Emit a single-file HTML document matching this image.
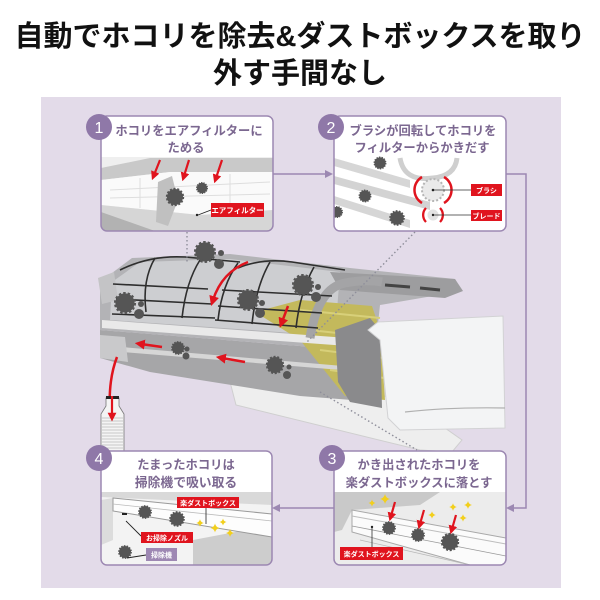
<!DOCTYPE html>
<html><head><meta charset="utf-8"><style>
html,body{margin:0;padding:0;background:#fff;}
svg{display:block;}
.t{font-family:"Liberation Sans","Noto Sans CJK JP",sans-serif;}
</style></head><body>
<svg width="600" height="600" viewBox="0 0 600 600" xmlns="http://www.w3.org/2000/svg" class="t">
<defs>
<marker id="ar" markerWidth="4" markerHeight="4" refX="1.5" refY="2" orient="auto"><path d="M0,0 L4,2 L0,4z" fill="#e0141e"/></marker>
<g id="dust"><circle r="8" fill="#555" stroke="#555" stroke-width="2.4" stroke-dasharray="2 1.6"/></g>
<path id="sp" d="M0,-5 Q0.9,-0.9 5,0 Q0.9,0.9 0,5 Q-0.9,0.9 -5,0 Q-0.9,-0.9 0,-5Z" fill="#f2cf1c"/>
<clipPath id="c1"><rect x="101" y="116" width="172" height="115" rx="6"/></clipPath>
<clipPath id="c2"><rect x="334" y="116" width="172" height="115" rx="6"/></clipPath>
<clipPath id="c3"><rect x="334" y="451" width="172" height="114" rx="6"/></clipPath>
<clipPath id="c4"><rect x="101" y="451" width="171" height="114" rx="6"/></clipPath>
</defs>

<!-- heading -->
<text x="300" y="46" font-size="29" font-weight="bold" text-anchor="middle" fill="#111">自動でホコリを除去&amp;ダストボックスを取り</text>
<text x="300" y="83" font-size="29" font-weight="bold" text-anchor="middle" fill="#111">外す手間なし</text>

<!-- panel -->
<rect x="41" y="97" width="520" height="491" fill="#e3dbe9"/>

<!-- connectors -->
<g stroke="#9c88b2" stroke-width="1.5" fill="none">
<path d="M273,174 H326"/>
<path d="M506,174 H526 V508 H513"/>
<path d="M334,508 H279"/>
</g>
<path d="M333,174 L325,170 L325,178Z" fill="#9c88b2"/>
<path d="M506,508 L514,504 L514,512Z" fill="#9c88b2"/>
<path d="M272,508 L280,504 L280,512Z" fill="#9c88b2"/>

<!-- ===== main AC illustration ===== -->
<polygon points="228,374 330,386 405,400 462,440 452,452 420,450 236,405" fill="#eeeeee" stroke="#cfcfcf"/>
<polygon points="100,330 375,352 378,402 300,396 150,372 100,358" fill="#a6a6a8"/>
<polygon points="100,282 132,258 230,254 350,268 455,279 462,291 380,305 375,352 100,330" fill="#b3b3b6"/>
<polygon points="112,282 140,262 230,259 340,272 335,336 110,320" fill="#cdced1"/>
<polygon points="255,312 300,300 372,306 380,330 385,400 345,396 300,340" fill="#c3b95c"/>
<g stroke="#d8d07a" stroke-width="2"><path d="M300,310 L380,318"/><path d="M310,330 L382,338"/><path d="M320,350 L383,358"/><path d="M330,370 L384,378"/></g>
<polygon points="102,320 375,340 375,348 102,328" fill="#e9e9e9"/>
<polygon points="110,346 378,369 378,373 110,351" fill="#d6d6d6"/>
<polygon points="98,278 114,272 118,300 102,304" fill="#c4c4c6"/>
<polygon points="100,335 125,337 128,362 100,358" fill="#c9c9cb"/>
<polygon points="335,330 370,318 380,330 382,408 350,402 338,382" fill="#8a8a8c"/>
<polygon points="330,272 455,279 463,291 445,298 340,290" fill="#9d9d9f"/>
<g stroke="#444" stroke-width="3"><path d="M385,285 L410,287"/><path d="M420,288 L440,290"/></g>
<path d="M310,338 Q318,288 345,283 Q365,279 382,282" stroke="#a4a4a6" stroke-width="9" fill="none"/>
<!-- white cover -->
<polygon points="368,330 378,322 503,316 505,428 400,430 388,418 380,340" fill="#f3f4f5" stroke="#d2d2d4"/>
<path d="M405,412 Q450,407 505,408" stroke="#b0b0b0" stroke-width="1.2" fill="none"/>
<!-- filter frames -->
<g stroke="#2e2e2e" stroke-width="1.6" fill="none">
<path d="M120,270 Q150,255 185,257 L240,262"/>
<path d="M113,284 L208,289"/><path d="M116,299 L212,304"/><path d="M112,314 L215,318"/>
<path d="M155,258 Q142,280 146,312"/><path d="M200,260 Q186,282 182,318"/><path d="M238,263 Q222,285 218,320"/>
<path d="M238,268 Q262,258 292,262 L345,270"/>
<path d="M222,290 L332,296"/><path d="M218,306 L322,313"/><path d="M215,320 L318,328"/>
<path d="M270,262 Q256,286 252,324"/><path d="M314,267 Q300,292 296,328"/>
</g>
<!-- dotted lines -->
<g stroke="#8e8e9a" stroke-width="1.4" stroke-dasharray="1.5 2.5" fill="none">
<path d="M187,232 V262"/>
<path d="M415,232 L307,342"/>
<path d="M320,392 L417,450"/>
</g>
<!-- dust on AC -->
<g>
<use href="#dust" transform="translate(205,252) scale(1.2)"/><circle cx="221" cy="253" r="3" fill="#555"/><circle cx="219" cy="264" r="5" fill="#555"/>
<use href="#dust" transform="translate(125,303) scale(1.2)"/><circle cx="141" cy="304" r="3" fill="#555"/><circle cx="139" cy="314" r="5" fill="#555"/>
<use href="#dust" transform="translate(248,300) scale(1.2)"/><circle cx="262" cy="303" r="3" fill="#555"/><circle cx="260" cy="313" r="5" fill="#555"/>
<use href="#dust" transform="translate(303,285) scale(1.2)"/><circle cx="318" cy="287" r="3" fill="#555"/><circle cx="316" cy="297" r="5" fill="#555"/>
<use href="#dust" transform="translate(178,348) scale(0.75)"/><circle cx="187" cy="349" r="2.5" fill="#555"/><circle cx="186" cy="356" r="3.5" fill="#555"/>
<use href="#dust" transform="translate(275,365) scale(1)"/><circle cx="289" cy="367" r="2.5" fill="#555"/><circle cx="287" cy="375" r="4" fill="#555"/>
</g>
<!-- red arrows on AC -->
<g stroke="#e0141e" stroke-width="2.5" fill="none" marker-end="url(#ar)">
<path d="M248,262 Q222,272 213,300"/>
<path d="M288,306 L282,322"/>
<path d="M162,347 L141,344"/>
<path d="M245,362 L222,358"/>
<path d="M117,357 Q108,380 110,414"/>
</g>
<!-- nozzle -->
<path d="M106,398 L119,398 L119,406 L124,414 L124,452 L101,452 L101,414 L106,406Z" fill="#f4f4f4" stroke="#777" stroke-width="0.8"/>
<g stroke="#9a9a9a" stroke-width="0.6"><path d="M102,418 H123"/><path d="M102,421 H123"/><path d="M102,424 H123"/><path d="M102,427 H123"/><path d="M102,430 H123"/><path d="M102,433 H123"/><path d="M102,436 H123"/><path d="M102,439 H123"/><path d="M102,442 H123"/><path d="M102,445 H123"/><path d="M102,448 H123"/></g>
<rect x="106" y="396" width="13" height="3" fill="#222"/>
<path d="M112,396 V416" stroke="#e0141e" stroke-width="2.2" marker-end="url(#ar)"/>

<!-- ===== Box 1 ===== -->
<rect x="101" y="116" width="172" height="115" rx="6" fill="#fff"/>
<g clip-path="url(#c1)">
<rect x="101" y="157" width="172" height="74" fill="#efefef"/>
<polygon points="101,168 150,158 273,158 273,172 170,172 101,180" fill="#c9c9c9"/>
<polygon points="101,180 170,172 273,172 273,210 200,215 101,205" fill="#fafafa"/>
<g stroke="#dedede" stroke-width="1"><path d="M110,190 L270,182"/><path d="M110,198 L270,194"/><path d="M140,178 L140,208"/><path d="M230,174 L230,212"/></g>
<polygon points="101,205 200,215 273,210 273,231 101,231" fill="#d6d6d6"/>
<polygon points="101,212 155,231 101,231" fill="#b2b2b2"/>
<polygon points="158,182 172,176 178,200 168,226 156,222" fill="#c0c0c0"/>
<use href="#dust" transform="translate(175,197) scale(1)"/>
<use href="#dust" transform="translate(202,188) scale(0.65)"/>
<g stroke="#e0141e" stroke-width="2.2" fill="none" marker-end="url(#ar)">
<path d="M160,160 L154,175"/><path d="M189,160 L184,176"/><path d="M222,160 L216,178"/>
</g>
<path d="M211,210 L198,215" stroke="#222" stroke-width="0.8"/><circle cx="197" cy="215" r="1.2" fill="#222"/>
<rect x="211" y="203" width="53" height="14" fill="#e0141e"/>
<text x="237.5" y="213" font-size="7.5" font-weight="bold" fill="#fff" text-anchor="middle">エアフィルター</text>
</g>
<rect x="101" y="116" width="172" height="115" rx="6" fill="none" stroke="#9c88b2" stroke-width="1.5"/>
<text x="189" y="135" font-size="12.3" font-weight="bold" fill="#7b6790" text-anchor="middle">ホコリをエアフィルターに</text>
<text x="186" y="152" font-size="12.3" font-weight="bold" fill="#7b6790" text-anchor="middle">ためる</text>
<circle cx="99" cy="127" r="13" fill="#8f78a8"/>
<text x="99" y="133" font-size="16" fill="#fff" text-anchor="middle">1</text>

<!-- ===== Box 2 ===== -->
<rect x="334" y="116" width="172" height="115" rx="6" fill="#fff"/>
<g clip-path="url(#c2)">
<polygon points="334,158 410,180 410,188 334,166" fill="#d6d6d6"/>
<polygon points="334,176 430,202 430,210 334,184" fill="#d3d3d3"/>
<polygon points="334,196 410,220 410,228 334,204" fill="#d6d6d6"/>
<path d="M400,158 Q404,182 433,178 Q455,176 457,158" stroke="#cfcfcf" stroke-width="5" fill="none"/>
<circle cx="433" cy="190" r="11" fill="#eaeaea" stroke="#b5b5b5" stroke-width="2" stroke-dasharray="2 2"/>
<circle cx="433" cy="190" r="1.3" fill="#222"/>
<path d="M422,177 A15,15 0 0 0 422,203" stroke="#e0141e" stroke-width="2.5" fill="none"/>
<path d="M444,177 A15,15 0 0 1 444,203" stroke="#e0141e" stroke-width="2.5" fill="none"/>
<circle cx="433" cy="215" r="5.5" fill="#e3e3e3"/>
<circle cx="433" cy="215" r="1.2" fill="#222"/>
<path d="M426,208 A10,10 0 0 0 426,222" stroke="#e0141e" stroke-width="2.3" fill="none"/>
<path d="M440,208 A10,10 0 0 1 440,222" stroke="#e0141e" stroke-width="2.3" fill="none"/>
<path d="M434,190 H471 M434,215 H471" stroke="#333" stroke-width="0.8"/>
<rect x="471" y="184" width="31" height="12" fill="#e0141e"/>
<text x="486.5" y="193" font-size="7" font-weight="bold" fill="#fff" text-anchor="middle">ブラシ</text>
<rect x="471" y="210" width="31" height="11" fill="#e0141e"/>
<text x="486.5" y="218.5" font-size="7" font-weight="bold" fill="#fff" text-anchor="middle">ブレード</text>
<use href="#dust" transform="translate(380,163) scale(0.7)"/>
<use href="#dust" transform="translate(365,196) scale(0.7)"/>
<use href="#dust" transform="translate(397,218) scale(0.85)"/>
<use href="#dust" transform="translate(337,212) scale(0.65)"/>
</g>
<rect x="334" y="116" width="172" height="115" rx="6" fill="none" stroke="#9c88b2" stroke-width="1.5"/>
<text x="423" y="135" font-size="12.3" font-weight="bold" fill="#7b6790" text-anchor="middle">ブラシが回転してホコリを</text>
<text x="422" y="152" font-size="12.3" font-weight="bold" fill="#7b6790" text-anchor="middle">フィルターからかきだす</text>
<circle cx="331" cy="127" r="13" fill="#8f78a8"/>
<text x="331" y="133" font-size="16" fill="#fff" text-anchor="middle">2</text>

<!-- ===== Box 3 ===== -->
<rect x="334" y="451" width="172" height="114" rx="6" fill="#fff"/>
<g clip-path="url(#c3)">
<rect x="334" y="492" width="172" height="73" fill="#ececec"/>
<polygon points="334,492 440,492 420,505 352,510 342,530 334,532" fill="#c9c9c9"/>
<polygon points="352,510 506,538 506,565 470,565 352,532" fill="#fbfbfb" stroke="#a9a9a9"/>
<path d="M352,516 L506,544" stroke="#bdbdbd" stroke-width="1"/>
<path d="M352,526 L506,556" stroke="#999" stroke-width="0.8"/>
<path d="M360,540 L470,565" stroke="#b8b8b8" stroke-width="0.8"/>
<use href="#dust" transform="translate(389,528) scale(0.75)"/>
<use href="#dust" transform="translate(418,535) scale(0.75)"/>
<use href="#dust" transform="translate(450,542) scale(1)"/>
<g stroke="#e0141e" stroke-width="2.2" fill="none" marker-end="url(#ar)">
<path d="M395,502 L391,516"/><path d="M424,510 L420,524"/><path d="M456,515 L452,529"/>
</g>
<use href="#sp" transform="translate(372,503) scale(0.7)"/>
<use href="#sp" transform="translate(385,499) scale(1)"/>
<use href="#sp" transform="translate(432,515) scale(0.75)"/>
<use href="#sp" transform="translate(453,507) scale(0.75)"/>
<use href="#sp" transform="translate(468,505) scale(0.8)"/>
<use href="#sp" transform="translate(463,518) scale(0.75)"/>
<path d="M372,527 V547" stroke="#333" stroke-width="0.8"/><circle cx="372" cy="527" r="1.2" fill="#222"/>
<rect x="340" y="547" width="63" height="13" fill="#e0141e"/>
<text x="371.5" y="556.5" font-size="7" font-weight="bold" fill="#fff" text-anchor="middle">楽ダストボックス</text>
</g>
<rect x="334" y="451" width="172" height="114" rx="6" fill="none" stroke="#9c88b2" stroke-width="1.5"/>
<text x="419" y="469" font-size="12.3" font-weight="bold" fill="#7b6790" text-anchor="middle">かき出されたホコリを</text>
<text x="419" y="487" font-size="12.3" font-weight="bold" fill="#7b6790" text-anchor="middle">楽ダストボックスに落とす</text>
<circle cx="332" cy="458" r="13" fill="#8f78a8"/>
<text x="332" y="464" font-size="16" fill="#fff" text-anchor="middle">3</text>

<!-- ===== Box 4 ===== -->
<rect x="101" y="451" width="171" height="114" rx="6" fill="#fff"/>
<g clip-path="url(#c4)">
<rect x="101" y="492" width="171" height="73" fill="#f3f3f3"/>
<polygon points="101,492 272,492 272,505 101,497" fill="#d9d9d9"/>
<polygon points="193,540 272,525 272,565 193,565" fill="#cdcdcd"/>
<polygon points="101,500 113,498 113,540 101,545" fill="#dcdcdc"/>
<polygon points="113,498 272,514 272,537 113,511" fill="#fdfdfd" stroke="#9a9a9a"/>
<path d="M113,504 L272,521" stroke="#bbb" stroke-width="0.8"/>
<use href="#dust" transform="translate(145,512) scale(0.75)"/>
<use href="#dust" transform="translate(177,519) scale(0.85)"/>
<use href="#dust" transform="translate(125,552) scale(0.75)"/>
<use href="#sp" transform="translate(200,523) scale(0.75)"/>
<use href="#sp" transform="translate(215,528) scale(0.9)"/>
<use href="#sp" transform="translate(223,522) scale(0.7)"/>
<use href="#sp" transform="translate(230,533) scale(0.8)"/>
<rect x="122" y="513" width="5" height="2" fill="#222"/>
<path d="M126,521 L141,536" stroke="#222" stroke-width="0.9"/>
<path d="M206,508 V524" stroke="#222" stroke-width="0.8"/>
<path d="M127,558 L146,555" stroke="#222" stroke-width="0.9"/>
<rect x="177" y="497" width="62" height="11" fill="#e0141e"/>
<text x="208" y="505.5" font-size="7" font-weight="bold" fill="#fff" text-anchor="middle">楽ダストボックス</text>
<rect x="141" y="532" width="52" height="11" fill="#e0141e"/>
<text x="167" y="540.5" font-size="7" font-weight="bold" fill="#fff" text-anchor="middle">お掃除ノズル</text>
<rect x="146" y="548" width="31" height="13" fill="#9e88b3"/>
<text x="161.5" y="557.5" font-size="7" font-weight="bold" fill="#fff" text-anchor="middle">掃除機</text>
</g>
<rect x="101" y="451" width="171" height="114" rx="6" fill="none" stroke="#9c88b2" stroke-width="1.5"/>
<text x="186" y="469" font-size="12.3" font-weight="bold" fill="#7b6790" text-anchor="middle">たまったホコリは</text>
<text x="186" y="487" font-size="12.8" font-weight="bold" fill="#7b6790" text-anchor="middle">掃除機で吸い取る</text>
<circle cx="99" cy="458" r="13" fill="#8f78a8"/>
<text x="99" y="464" font-size="16" fill="#fff" text-anchor="middle">4</text>
</svg>
</body></html>
